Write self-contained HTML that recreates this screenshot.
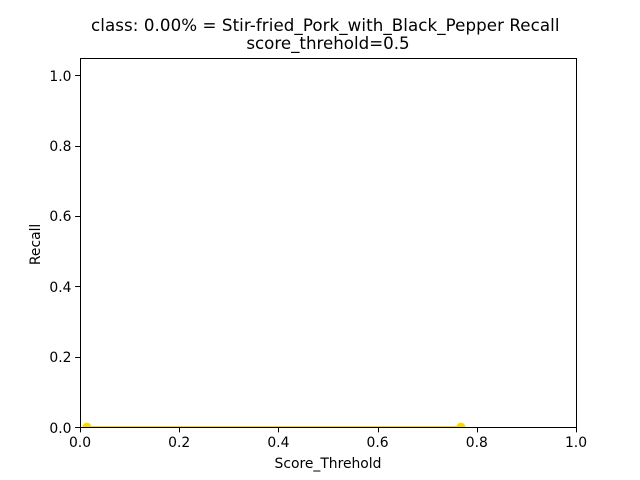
<!DOCTYPE html>
<html>
<head>
<meta charset="utf-8">
<style>
html,body{margin:0;padding:0;background:#fff;}
svg{display:block;}
text{font-family:"DejaVu Sans",sans-serif;fill:#000;}
</style>
</head>
<body>
<svg id="chart" xmlns="http://www.w3.org/2000/svg" width="640" height="480" viewBox="0 0 640 480">
  <rect x="0" y="0" width="640" height="480" fill="#fff"/>
  <text x="91" y="31" font-size="16.67" textLength="468.5" lengthAdjust="spacing">class: 0.00% = Stir-fried_Pork_with_Black_Pepper Recall</text>
  <text x="328" y="49" font-size="16.67" text-anchor="middle">score_threhold=0.5</text>
  <text x="328" y="468" font-size="13.89" text-anchor="middle">Score_Threhold</text>
  <text transform="translate(40,244.4) rotate(-90)" font-size="13.89" text-anchor="middle">Recall</text>
  <defs>
    <clipPath id="plot-clip"><rect x="80" y="57.6" width="496" height="370"/></clipPath>
  </defs>
  <g id="series" clip-path="url(#plot-clip)"></g>
  <g id="axes"></g>
</svg>
<script>
const xValues = [0.014, 0.768];
const recallValues = [0, 0];
const xTicks = [0, 0.2, 0.4, 0.6, 0.8, 1];
const yTicks = [0, 0.2, 0.4, 0.6, 0.8, 1];
const xTickLabels = ['0.0', '0.2', '0.4', '0.6', '0.8', '1.0'];
const yTickLabels = ['0.0', '0.2', '0.4', '0.6', '0.8', '1.0'];

const NS = 'http://www.w3.org/2000/svg';
const plotLeft = 80, plotRight = 576, plotTop = 57.6, plotBottom = 427.2;
const xMax = 1, yMax = 1.05;
const seriesColor = '#ffd700';
function sx(v) { return plotLeft + (v / xMax) * (plotRight - plotLeft); }
function sy(v) { return plotBottom - (v / yMax) * (plotBottom - plotTop); }
function snap(p) { return Math.floor(p + 0.5) + 0.5; }
function make(tag, attrs, parent) {
  const el = document.createElementNS(NS, tag);
  for (const k in attrs) el.setAttribute(k, attrs[k]);
  parent.appendChild(el);
  return el;
}

const seriesGroup = document.getElementById('series');
const axesGroup = document.getElementById('axes');

const pts = xValues.map((x, i) => sx(x) + ',' + Math.round(sy(recallValues[i]))).join(' ');
const line = make('polyline', { points: pts, fill: 'none', stroke: seriesColor, 'stroke-width': 2 }, seriesGroup);



xValues.forEach((x, i) => {
  const dot = make('circle', { cx: sx(x), cy: sy(recallValues[i]), r: 4.6, fill: seriesColor }, seriesGroup);
  
  
});

const frameLeft = snap(plotLeft), frameRight = snap(plotRight), frameTop = snap(plotTop), frameBottom = snap(plotBottom);
const frame = make('rect', { x: frameLeft, y: frameTop, width: frameRight - frameLeft, height: frameBottom - frameTop, fill: 'none', stroke: '#000', 'stroke-width': 1 }, axesGroup);



xTicks.forEach((t, i) => {
  const x = snap(sx(t));
  const tick = make('line', { x1: x, x2: x, y1: frameBottom, y2: frameBottom + 4.9, stroke: '#000', 'stroke-width': 1 }, axesGroup);
  
  
  const label = make('text', { x: sx(t), y: 447, 'font-size': 13.89, 'text-anchor': 'middle' }, axesGroup);
  
  
  label.textContent = xTickLabels[i];
});

yTicks.forEach((t, i) => {
  const y = snap(sy(t));
  const tick = make('line', { x1: plotLeft - 4.9, x2: plotLeft, y1: y, y2: y, stroke: '#000', 'stroke-width': 1 }, axesGroup);
  
  
  const label = make('text', { x: 71.5, y: Math.round(sy(t) + 5.3), 'font-size': 13.89, 'text-anchor': 'end' }, axesGroup);
  
  
  label.textContent = yTickLabels[i];
});
</script>
</body>
</html>
